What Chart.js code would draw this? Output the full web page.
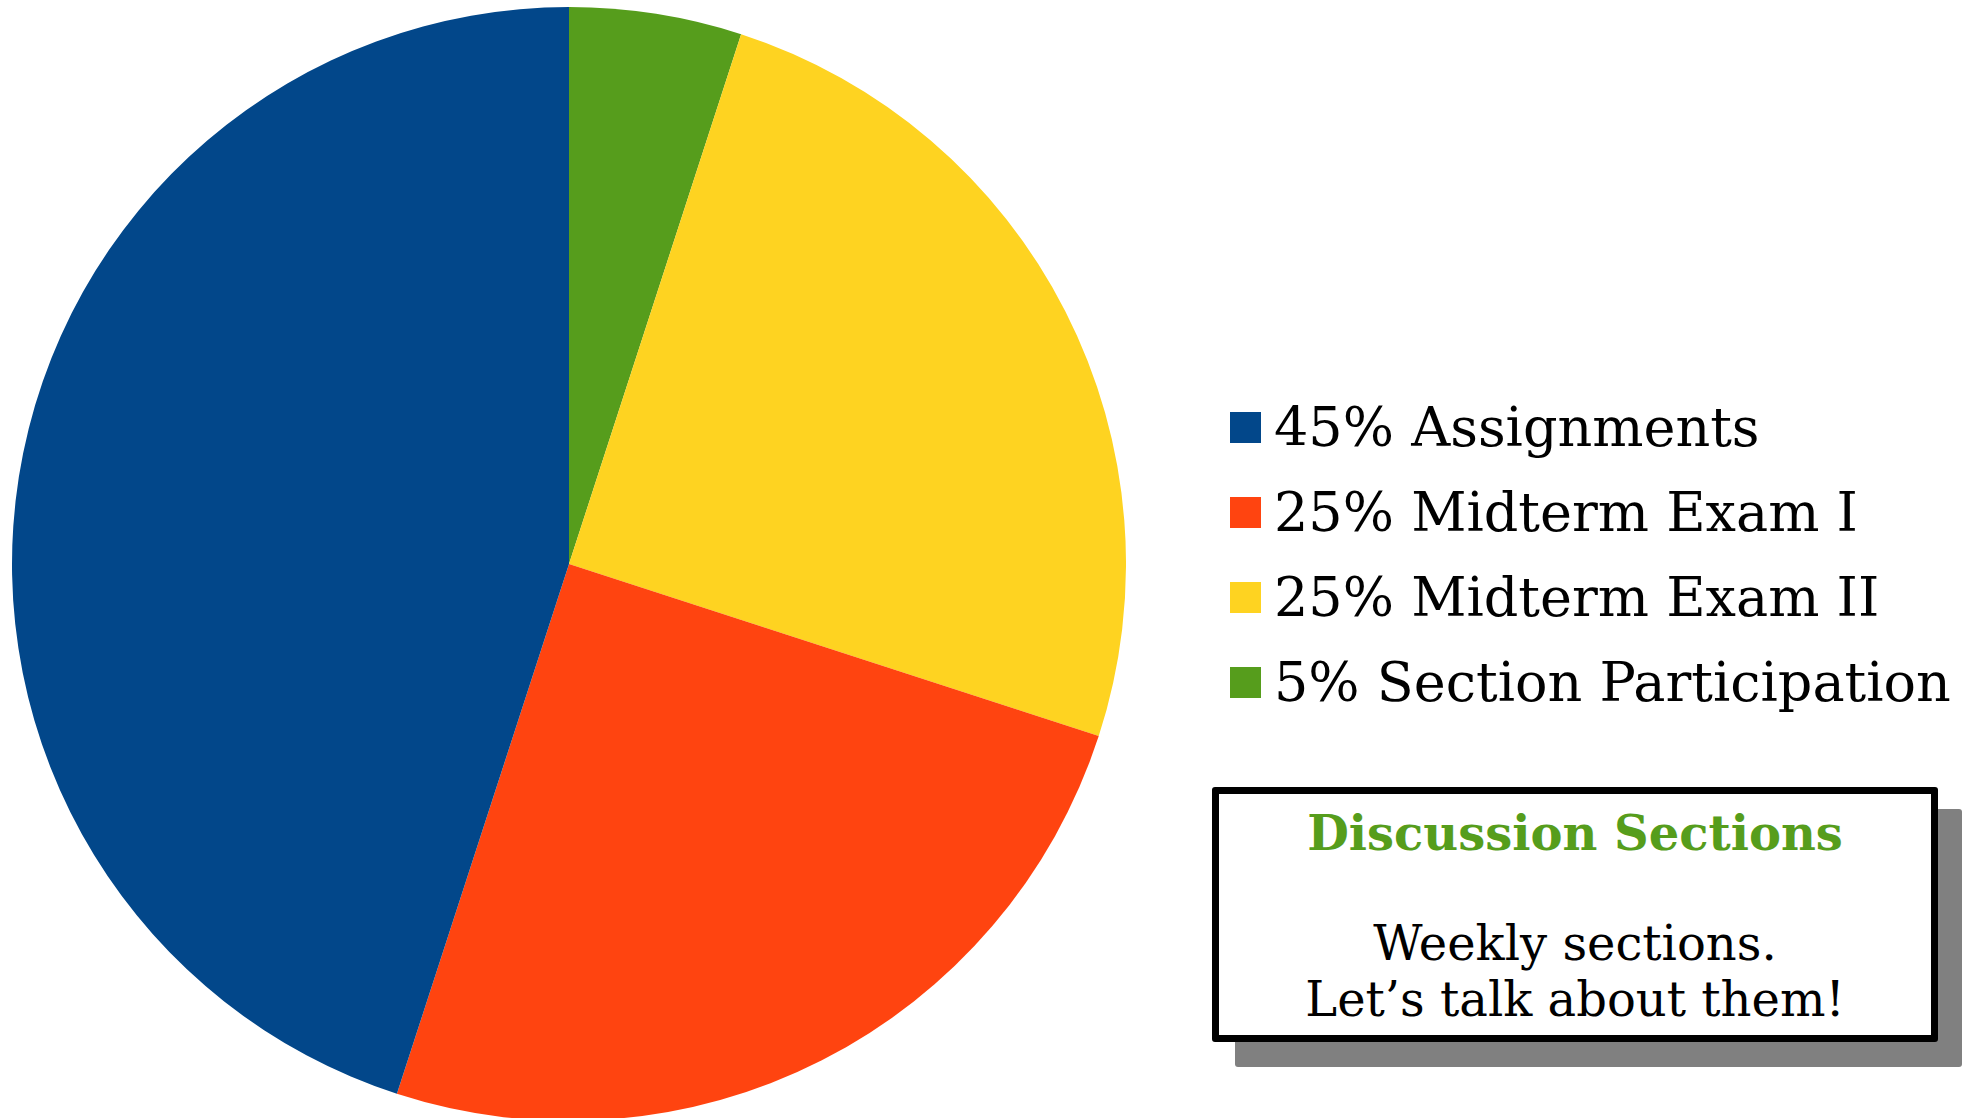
<!DOCTYPE html>
<html>
<head>
<meta charset="utf-8">
<script src="https://cdn.jsdelivr.net/npm/chart.js@4"></script>
<style>
  html, body { margin: 0; padding: 0; width: 1966px; height: 1118px; overflow: hidden; background: #fff; }
  #pie-wrap { position: absolute; left: 12px; top: 7px; width: 1114px; height: 1114px; }
  #legend { position: absolute; left: 1230px; top: 385px; font-family: "DejaVu Serif", serif; font-size: 54px; color: #000; }
  .leg-row { height: 85px; display: flex; align-items: center; white-space: nowrap; }
  .leg-box { width: 31px; height: 31px; margin-right: 13px; flex: none; }
  #note-shadow { position: absolute; left: 1235px; top: 809px; width: 727px; height: 258px; background: #808080; border-radius: 3px; }
  #note { position: absolute; left: 1212px; top: 787px; width: 712px; height: 241px; background: #fff; border: 7px solid #000; border-radius: 3px;
          font-family: "DejaVu Serif", serif; text-align: center; color: #000; }
  #note .title { color: #569d1c; font-weight: bold; font-size: 48px; margin-top: 11px; line-height: 56px; }
  #note .body { font-size: 48px; line-height: 56px; margin-top: 54px; }
</style>
</head>
<body>
<div id="pie-wrap"><canvas id="grading-pie"></canvas></div>
<div id="legend"></div>
<div id="note-shadow"></div>
<div id="note">
  <div class="title">Discussion Sections</div>
  <div class="body">Weekly sections.<br>Let’s talk about them!</div>
</div>
<script>
// slices go clockwise from 12 o'clock
const labels = ['5% Section Participation', '25% Midterm Exam II', '25% Midterm Exam I', '45% Assignments'];
const weights = [5, 25, 25, 45];
const colors = ['#569d1c', '#fed321', '#ff4410', '#02478a'];

// legend lists them the other way round
const legend = document.getElementById('legend');
labels.slice().reverse().forEach((lbl, i) => {
    const c = colors[colors.length - 1 - i];
    const row = document.createElement('div');
    row.className = 'leg-row';
    row.innerHTML = `<div class="leg-box" style="background:${c}"></div><span>${lbl}</span>`;
    legend.appendChild(row);
});

new Chart(document.getElementById('grading-pie').getContext('2d'), {
    type: 'pie',
    data: {
        labels: labels,
        datasets: [{
            data: weights,
            backgroundColor: colors,
            borderWidth: 0
        }]
    },
    options: {
        responsive: true,
        maintainAspectRatio: false,
        animation: false,
        layout: { padding: 0 },
        plugins: {
            legend: { display: false },
            tooltip: { enabled: false }
        }
    }
});
</script>
</body>
</html>
